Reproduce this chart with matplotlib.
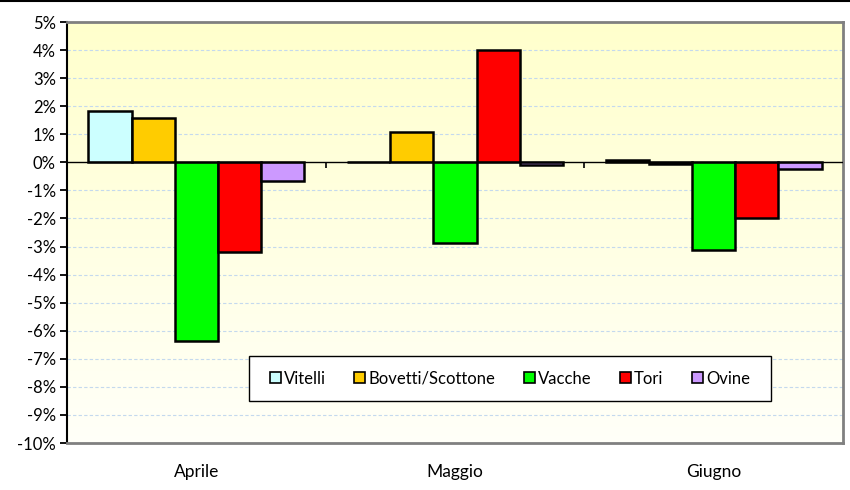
import matplotlib
matplotlib.use('Agg')
import matplotlib.pyplot as plt
import numpy as np
from matplotlib.lines import Line2D
from matplotlib.patches import Rectangle
from matplotlib.ticker import FuncFormatter

mesi = ['Aprile', 'Maggio', 'Giugno']
serie = ['Vitelli', 'Bovetti/Scottone', 'Vacche', 'Tori', 'Ovine']
colori = ['#CCFFFF', '#FFCC00', '#00FF00', '#FF0000', '#CC99FF']

vitelli = [1.84, 0.03, 0.07]
bovetti = [1.59, 1.09, -0.05]
vacche = [-6.36, -2.87, -3.14]
tori = [-3.18, 4.01, -1.98]
ovine = [-0.67, -0.10, -0.24]
valori = [vitelli, bovetti, vacche, tori, ovine]

plt.rcParams['font.family'] = ['Lato', 'DejaVu Sans']

fig = plt.figure(figsize=(8.5, 4.9), dpi=100)
ax = fig.add_axes([0.0788, 0.0959, 0.9130, 0.8591])

# sfondo sfumato
grad = np.linspace(0, 1, 256).reshape(-1, 1)
top = np.array([1.0, 1.0, 0.80])
bot = np.array([1.0, 1.0, 0.975])
img = top + (bot - top) * grad[..., None]
img = img.reshape(256, 1, 3)
ax.imshow(img, extent=[-0.5, 2.5, -10, 5], aspect='auto', zorder=0)

x = np.arange(len(mesi))
w = 0.167
for i, (nome, v) in enumerate(zip(serie, valori)):
    ax.bar(x + (i - 2) * w, v, w, color=colori[i], edgecolor='black',
           linewidth=1.8, label=nome, zorder=3)

ax.set_xlim(-0.5, 2.5)
ax.set_ylim(-10, 5)
ax.set_yticks(np.arange(-10, 6, 1))
ax.yaxis.set_major_formatter(FuncFormatter(lambda v, p: '%d%%' % v))
for g in range(-9, 5):
    if g != 0:
        ax.axhline(g, color='#C4D9EE', lw=0.8, ls=(0, (3, 2)), zorder=1)
ax.axhline(0, color='black', lw=1, zorder=4)
ax.vlines(np.arange(0.5, 2.5, 1), -0.2, 0, color='black', lw=1.2, zorder=4)

ax.set_xticks(x)
ax.set_xticklabels(mesi)
ax.tick_params(axis='x', length=0, pad=15, labelsize=12.5)
ax.tick_params(axis='y', length=5, width=1.3, pad=3, labelsize=12, colors='black')

for s in ['top', 'right', 'bottom']:
    ax.spines[s].set_color('#808080')
    ax.spines[s].set_linewidth(2)
ax.spines['left'].set_color('black')
ax.spines['left'].set_linewidth(1.5)

# riquadro legenda
ax.add_patch(Rectangle((0.2345, 0.0998), 0.6725, 0.107, transform=ax.transAxes,
                       facecolor='white', edgecolor='black', lw=1, zorder=5))
leg = ax.legend(ncol=5, loc='center', bbox_to_anchor=(0.5708, 0.1532),
                frameon=False, fontsize=12,
                handlelength=0.65, handleheight=0.65, handletextpad=0.2,
                columnspacing=1.7, borderaxespad=0)
leg.set_zorder(6)
for h in leg.legend_handles:
    h.set_linewidth(1.2)

fig.add_artist(Line2D([0, 1], [0.998, 0.998], color='black', lw=1.5))

fig.savefig('out.png', dpi=100)
